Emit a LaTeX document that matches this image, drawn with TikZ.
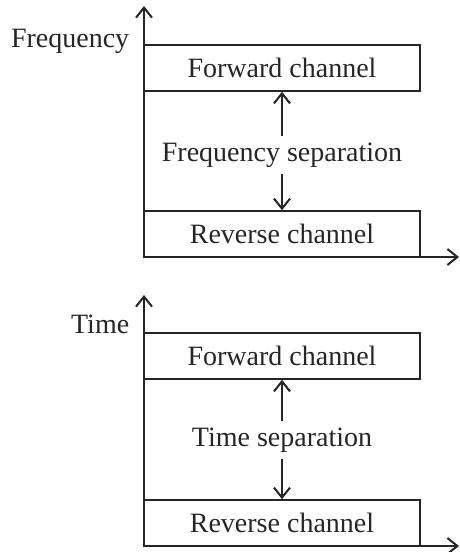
\documentclass[tikz,border=0pt]{standalone}
\usepackage{fontspec}
\setmainfont{Liberation Serif}
\usetikzlibrary{arrows.meta}

\begin{document}
\begin{tikzpicture}[x=0.5pt, y=-0.5pt, thick, color=black!85,
        >={Straight Barb[length=5pt,width=8pt,line width=1pt]},
        every node/.style = {font=\fontsize{14}{16}\selectfont},
        main/.style = {draw, minimum width=138pt, minimum height=23pt, inner sep=0pt},
        sep/.style = {inner sep=3pt},
        axlabel/.style = {anchor=base east, inner sep=0pt}]
    \useasboundingbox (0,0) rectangle (460,552);
    % frequency division
    \coordinate (o1) at (144,257);
    \coordinate (y1) at (144,6);
    \coordinate (x1) at (459,257);
    \node[main] (fwd1) at (282,68) {Forward channel};
    \node[main] (rev1) at (282,234) {Reverse channel};
    \node[sep] (sep1) at (282,155) {Frequency separation};
    \node[axlabel] (lab1) at (130,47) {Frequency};
    \draw[<->] (y1)--(o1)--(x1);
    \draw[->] (sep1)--(fwd1);
    \draw[->] (sep1)--(rev1);
    % time division
    \coordinate (o2) at (144,546);
    \coordinate (y2) at (144,295);
    \coordinate (x2) at (459,546);
    \node[main] (fwd2) at (282,356) {Forward channel};
    \node[main] (rev2) at (282,523) {Reverse channel};
    \node[sep] (sep2) at (282,440) {Time separation};
    \node[axlabel] (lab2) at (130,333) {Time};
    \draw[<->] (y2)--(o2)--(x2);
    \draw[->] (sep2)--(fwd2);
    \draw[->] (sep2)--(rev2);
\end{tikzpicture}
\end{document}
